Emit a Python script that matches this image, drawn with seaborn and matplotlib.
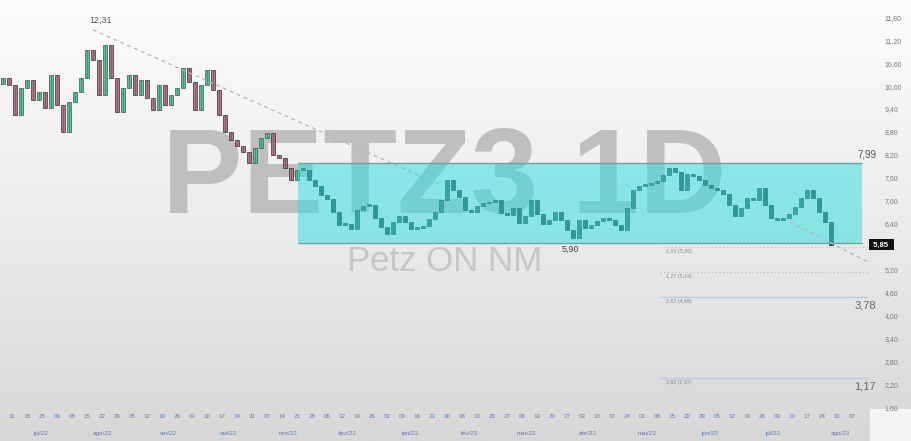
import numpy as np
import matplotlib
matplotlib.use("Agg")
import matplotlib.pyplot as plt
import matplotlib.transforms as mtransforms
from matplotlib.patches import Rectangle
from matplotlib.colors import LinearSegmentedColormap
import seaborn as sns

# ---------------- data ----------------
first_open = 10.05
closes = [10.21, 10.03, 9.24, 9.95, 10.16, 9.64, 9.84, 9.43, 10.29, 9.51,
          8.80, 9.58, 9.84, 10.21, 10.94, 10.68, 9.77, 11.07, 10.21, 9.32,
          9.95, 10.29, 9.77, 10.16, 9.69, 9.37, 10.03, 9.51, 9.77, 9.95,
          10.47, 10.11, 9.37, 10.03, 10.42, 9.90, 9.24, 8.80, 8.59, 8.43,
          8.28, 7.99, 8.38, 8.64, 8.77, 8.20, 8.12, 7.86, 7.55, 7.81,
          7.81, 7.55, 7.39, 7.15, 7.05, 6.71, 6.37, 6.40, 6.27, 6.76,
          6.87, 6.89, 6.55, 6.32, 6.14, 6.45, 6.61, 6.45, 6.27, 6.29,
          6.34, 6.53, 6.71, 7.02, 7.55, 7.28, 7.10, 6.76, 6.71, 6.87,
          6.94, 6.97, 7.02, 6.68, 6.63, 6.81, 6.42, 6.61, 7.02, 6.66,
          6.40, 6.50, 6.71, 6.50, 6.24, 6.03, 6.50, 6.29, 6.37, 6.48,
          6.55, 6.50, 6.37, 6.24, 6.81, 7.28, 7.39, 7.42, 7.47, 7.52,
          7.68, 7.86, 7.76, 7.28, 7.70, 7.65, 7.55, 7.42, 7.34, 7.28,
          7.18, 6.89, 6.61, 6.81, 7.08, 7.02, 7.34, 6.89, 6.55, 6.50,
          6.55, 6.66, 6.84, 7.08, 7.28, 7.08, 6.71, 6.45, 5.85]

peak_label = "12,31"
box_top, box_bottom = 7.99, 5.90
box_top_label, box_bottom_label = "7,99", "5,90"
box_start, box_end = 49.2, 143.2

fib_levels = [5.80, 5.14, 4.49, 2.37]
fib_labels = ["1,00 (5,80)", "1,27 (5,14)", "1,62 (4,49)", "2,62 (2,37)"]
fib_styles = [":", ":", "-", "-"]
fib_colors = ["#c8c8c8", "#c0c0c0", "#b9c9e6", "#b9c9e6"]
fib_start = 109.5
target_labels = [(4.49, "3,78"), (2.37, "1,17")]

trend1_x = [15.0, 72.8]
trend1_y = [11.47, 7.42]
trend2_x = [131.2, 144.2]
trend2_y = [6.45, 5.40]

last_price_label = "5,85"

day_labels = ["11", "18", "25", "01", "08", "15", "22", "29", "05", "12",
              "19", "26", "03", "10", "17", "24", "31", "07", "14", "21",
              "28", "05", "12", "19", "26", "02", "09", "16", "23", "30",
              "06", "13", "20", "27", "06", "13", "20", "27", "03", "10",
              "17", "24", "01", "08", "15", "22", "29", "05", "12", "19",
              "26", "03", "10", "17", "24", "31", "07"]
month_labels = ["jul/22", "ago/22", "set/22", "out/22", "nov/22", "dez/22",
                "jan/23", "fev/23", "mar/23", "abr/23", "mai/23", "jun/23",
                "jul/23", "ago/23"]
month_pos = [6.2, 16.5, 27.5, 37.5, 47.5, 57.3, 67.8, 77.8, 87.3, 97.5,
             107.3, 117.8, 128.2, 139.5]

# ---------------- figure ----------------
sns.set_theme(style="white")
plt.rcParams["font.family"] = ["Liberation Sans", "DejaVu Sans"]

W, H = 911, 441
fig = plt.figure(figsize=(W / 100, H / 100), dpi=100)

bg = fig.add_axes([0, 0, 1, 1], zorder=-5)
grad = np.linspace(0, 1, 256).reshape(-1, 1)
cmap = LinearSegmentedColormap.from_list("bg", ["#fcfcfc", "#ececec", "#d7d7d7"])
bg.imshow(grad, aspect="auto", cmap=cmap, extent=[0, 1, 0, 1], origin="upper")
bg.add_patch(Rectangle((870 / W, 0), 41 / W, 32 / H, color="#f4f4f4", lw=0))
bg.set_xlim(0, 1)
bg.set_ylim(0, 1)
bg.axis("off")

ax = fig.add_axes([0, 31 / H, 868 / W, 410 / H])
ax.patch.set_alpha(0)
ax.set_xlim(-0.5, 868 / 6 - 0.5)
ax.set_ylim(1.537, 12.248)
for s in ax.spines.values():
    s.set_visible(False)

# watermark
ax.text(73.6, 6.684, "PETZ3 1D", ha="center", va="baseline", fontsize=87,
        fontweight="bold", family="Liberation Sans", color="#bfbfbf", zorder=1)
ax.text(73.6, 5.18, "Petz ON NM", ha="center", va="baseline", fontsize=25,
        family="Liberation Sans", color="#c6c6c6", zorder=1)

# candles
opens = [first_open] + closes[:-1]
x = np.arange(len(closes))
o = np.array(opens)
c = np.array(closes)
up = c >= o
inbox = x >= box_start
bottoms = np.minimum(o, c)
heights = np.maximum(np.abs(c - o), 0.04)
styles = [
    (up & ~inbox, "#63b89b", "#2f5f50"),
    (~up & ~inbox, "#a97a81", "#3a2c2e"),
    (up & inbox, "#3f6f66", "#1f3b36"),
    (~up & inbox, "#2f4f4c", "#1a2a28"),
]
for m, fc, ec in styles:
    ax.bar(x[m], heights[m], bottom=bottoms[m], width=0.55, color=fc,
           edgecolor=ec, linewidth=0.5, zorder=2)
ax.vlines(x, bottoms, bottoms + heights, color="#333333", lw=0.4, zorder=2, alpha=0.6)

# trend lines
sns.lineplot(x=trend1_x, y=trend1_y, ax=ax, color="#b5b5b5", lw=0.9,
             linestyle=(0, (3, 3)), zorder=2)
sns.lineplot(x=trend2_x, y=trend2_y, ax=ax, color="#b5b5b5", lw=0.9,
             linestyle=(0, (3, 3)), zorder=4)

# box
ax.add_patch(Rectangle((box_start, box_bottom), box_end - box_start,
                       box_top - box_bottom, facecolor="#30dede", alpha=0.52,
                       edgecolor="none", zorder=3))
ax.hlines([box_top, box_bottom], box_start, box_end, color="#6aa6a8", lw=1.0, zorder=3)
ax.text(145.5, box_top + 0.1, box_top_label, fontsize=7, color="#555",
        ha="right", va="bottom", zorder=4, clip_on=False)
ax.text(94.5, box_bottom - 0.06, box_bottom_label, fontsize=6.5, color="#444",
        ha="center", va="top", zorder=4)

# peak label
ax.text(16.3, 11.72, peak_label, fontsize=6.5, color="#555", ha="center",
        va="center", zorder=4)

# fib levels
xmax = ax.get_xlim()[1]
for lv, lb, ls, col in zip(fib_levels, fib_labels, fib_styles, fib_colors):
    ax.hlines(lv, fib_start, xmax, color=col, lw=1.0, linestyle=ls, zorder=2)
    ax.text(fib_start + 1.0, lv - 0.06, lb, fontsize=3.8, color="#888",
            ha="left", va="top", zorder=4)
for lv, lb in target_labels:
    ax.text(145.5, lv - 0.08, lb, fontsize=8, color="#666",
            ha="right", va="top", zorder=4, clip_on=False)

# right price axis
yt = np.concatenate([np.arange(1.6, 5.3, 0.6), np.arange(6.4, 12.0, 0.6)])
ax.yaxis.tick_right()
ax.set_yticks(yt)
ax.set_yticklabels([f"{v:.2f}".replace(".", ",") for v in yt])
ax.tick_params(axis="y", length=0, pad=12, labelsize=5, labelcolor="#7a7a7a")

trans = mtransforms.blended_transform_factory(ax.transAxes, ax.transData)
ax.text(1.0 + 3 / 868, closes[-1], " " + last_price_label + "  ", transform=trans,
        fontsize=5.5, color="white", fontweight="bold", va="center", ha="left",
        bbox=dict(boxstyle="square,pad=0.25", fc="#111111", ec="none"), zorder=5)

# x axis
day_pos = 1.5 + 2.5 * np.arange(len(day_labels))
ax.set_xticks(day_pos)
ax.set_xticklabels(day_labels)
ax.tick_params(axis="x", length=0, pad=3, labelsize=4.5, labelcolor="#5b80b8")
transx = mtransforms.blended_transform_factory(ax.transData, ax.transAxes)
for p, lb in zip(month_pos, month_labels):
    ax.text(p, -0.058, lb, transform=transx, fontsize=4.5, color="#5b80b8",
            ha="center", va="center")
ax.grid(False)

fig.savefig("out.png", dpi=100)
